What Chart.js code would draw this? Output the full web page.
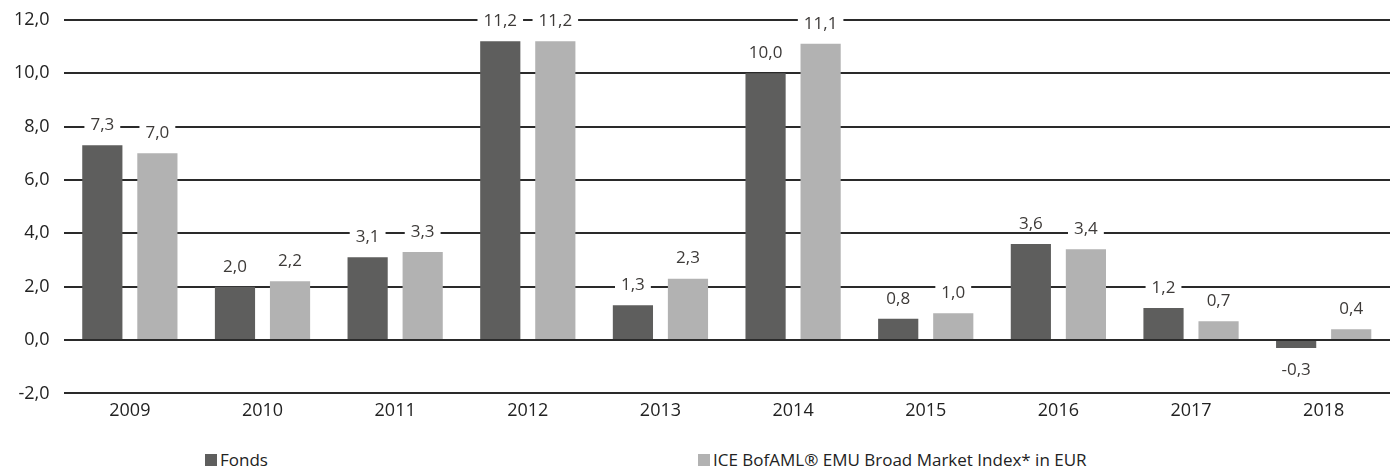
<!DOCTYPE html>
<html>
<head>
<meta charset="utf-8">
<script src="https://cdn.jsdelivr.net/npm/chart.js@4/dist/chart.umd.min.js"></script>
<style>
    body { margin: 0; background: #fff; font-family: "Open Sans", sans-serif; }
    #wrap { position: relative; width: 1395px; height: 472px; overflow: hidden; }
    #barChartCanvas { position: absolute; left: 0; top: -5px; }
    #legend span.item { position: absolute; top: 448px; font-size: 17px; color: #222; white-space: nowrap; }
    #legend span.box { display: inline-block; width: 12px; height: 12px; margin-right: 3px; vertical-align: 0px; }
</style>
</head>
<body>
<div id="wrap">
    <canvas id="barChartCanvas" width="1395" height="434"></canvas>
    <div id="legend"></div>
</div>
<script>
let years = ['2009', '2010', '2011', '2012', '2013', '2014', '2015', '2016', '2017', '2018'];
let fondsValues = [7.3, 2.0, 3.1, 11.2, 1.3, 10.0, 0.8, 3.6, 1.2, -0.3];
let indexValues = [7.0, 2.2, 3.3, 11.2, 2.3, 11.1, 1.0, 3.4, 0.7, 0.4];
let seriesNames = ['Fonds', 'ICE BofAML® EMU Broad Market Index* in EUR'];
let seriesColors = ['#5e5e5d', '#b2b2b2'];

let fmt = function (v) {
    return v.toFixed(1).replace('.', ',');
};

// value labels with a white box over the grid lines
let valueLabels = {
    id: 'valueLabels',
    afterDatasetsDraw: function (chart) {
        let ctx = chart.ctx;
        ctx.save();
        ctx.font = '17px "Open Sans"';
        ctx.textAlign = 'center';
        ctx.textBaseline = 'middle';
        chart.data.datasets.forEach(function (ds, i) {
            chart.getDatasetMeta(i).data.forEach(function (bar, j) {
                let v = ds.data[j];
                let y = v >= 0 ? bar.y - 21 : bar.y + 21;
                let text = fmt(v);
                let w = ctx.measureText(text).width + 12;
                ctx.fillStyle = '#fff';
                ctx.fillRect(bar.x - w / 2, y - 9, w, 18);
                ctx.fillStyle = '#3d3a38';
                ctx.fillText(text, bar.x, y + 1);
            });
        });
        ctx.restore();
    }
};

let barChartDraw = function () {
    let ctx = document.getElementById('barChartCanvas').getContext('2d');

    window.barChart = new Chart(ctx, {
        type: 'bar',
        data: {
            labels: years,
            datasets: [{
                label: seriesNames[0],
                data: fondsValues,
                backgroundColor: seriesColors[0]
            }, {
                label: seriesNames[1],
                data: indexValues,
                backgroundColor: seriesColors[1]
            }]
        },
        options: {
            responsive: false,
            animation: false,
            categoryPercentage: 0.83,
            barPercentage: 0.73,
            layout: { padding: { top: 3, right: 5, left: 0, bottom: 0 } },
            plugins: {
                legend: { display: false },
                tooltip: { enabled: false }
            },
            scales: {
                x: {
                    grid: { display: false, drawTicks: false },
                    border: { display: false },
                    ticks: { color: '#222', font: { family: 'Open Sans', size: 18 }, padding: 7 }
                },
                y: {
                    min: -2,
                    max: 12,
                    grid: { color: '#2a2a2a', lineWidth: 2, drawTicks: false },
                    border: { display: false },
                    ticks: {
                        stepSize: 2,
                        color: '#222',
                        font: { family: 'Open Sans', size: 18 },
                        padding: 14,
                        callback: function (v) { return fmt(v); }
                    }
                }
            }
        },
        plugins: [valueLabels]
    });

    let legend = document.getElementById('legend');
    let lefts = [205, 698];
    seriesNames.forEach(function (name, i) {
        let item = document.createElement('span');
        item.className = 'item';
        item.style.left = lefts[i] + 'px';
        item.innerHTML = '<span class="box" style="background:' + seriesColors[i] + '"></span>' + name;
        legend.appendChild(item);
    });
};

window.onload = function () {
    barChartDraw();
};
</script>
</body>
</html>
